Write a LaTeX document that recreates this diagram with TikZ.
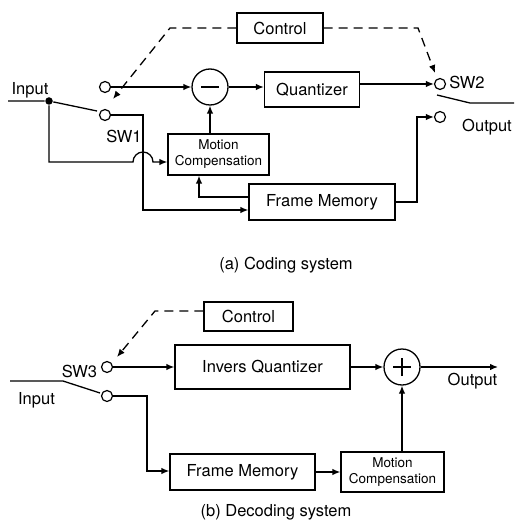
\documentclass[tikz,border=0pt]{standalone}
\usepackage{fontspec}
\setmainfont{TeX Gyre Heros}
\usetikzlibrary{arrows.meta}

\begin{document}
\begin{tikzpicture}[x=1pt,y=-1pt,line width=1.3pt,
  font=\fontsize{16.5}{19}\selectfont,
  blk/.style={draw,rectangle,inner sep=0pt},
  smalltext/.style={font=\fontsize{13.5}{16}\selectfont,align=center},
  sumnode/.style={draw,circle,minimum size=36pt,inner sep=0pt},
  contact/.style={draw,circle,fill=white,minimum size=11pt,inner sep=0pt,line width=1.2pt},
  jdot/.style={fill,circle,minimum size=7.5pt,inner sep=0pt},
  arr/.style={-{Latex[length=8pt,width=6.5pt]}},
  dctl/.style={dashed,dash pattern=on 9pt off 6pt,-{Latex[length=8pt,width=6.5pt]}}]
 \useasboundingbox (0,0) rectangle (514,529);

 % (a) coding system
 \node[blk,minimum width=86pt,minimum height=30pt] (ctlA) at (280,28) {Control};
 \node[blk,minimum width=95pt,minimum height=35pt] (quant) at (312,89.5) {Quantizer};
 \node[blk,smalltext,minimum width=101pt,minimum height=41pt] (mcA) at (218.5,154.5) {Motion\\Compensation};
 \node[blk,minimum width=146pt,minimum height=36pt] (fmA) at (322,202) {Frame Memory};
 \node[sumnode] (sub) at (210,87) {};
 \draw[line width=2.8pt] ([xshift=-9pt]sub.center) -- ([xshift=9pt]sub.center);

 \node[contact] (s1a) at (105,87) {};
 \node[contact] (s1b) at (105,115) {};
 \node[contact] (s2a) at (440,84) {};
 \node[contact] (s2b) at (440,117) {};
 \node[jdot] (inA) at (49,101) {};
 \coordinate (inAstart) at (8,101);
 \coordinate (b1) at (97,111);
 \coordinate (hop) at (133,162);
 \coordinate (k1) at (143,210);
 \coordinate (k2) at (417,117);
 \coordinate (k3) at (199,197);
 \coordinate (d1) at (170,28);
 \coordinate (tip1) at (113,99);
 \coordinate (d2) at (418,28);
 \coordinate (tip2) at (435,73);
 \coordinate (b2a) at (437,95);
 \coordinate (b2b) at (470,103);
 \coordinate (outA) at (514,103);

 \node (inlabA) at (30,90) {Input};
 \node (sw1) at (124,136) {SW1};
 \node (sw2) at (467,82) {SW2};
 \node (outlabA) at (487,127) {Output};

 \draw (inAstart) -- (inA) -- (b1);
 \draw[arr] (inA) |- (hop) arc[start angle=180,end angle=0,radius=10pt] -- (hop -| mcA.west);
 \draw[arr] (s1b) -| (k1) -- (k1 -| fmA.west);
 \draw[arr] (s1a) -- (sub);
 \draw[arr] (sub) -- (sub -| quant.west);
 \draw[arr] (mcA.north -| sub) -- (sub);
 \draw[arr] (k3 -| fmA.west) -- (k3) -- (k3 |- mcA.south);
 \draw[arr] (quant.east |- s2a) -- (s2a);
 \draw[arr] (fmA.east) -| (k2) -- (s2b);
 \draw (b2a) -- (b2b) -- (outA);
 \draw[dctl] (ctlA.west) -- (d1) -- (tip1);
 \draw[dctl] (ctlA.east) -- (d2) -- (tip2);

 \node (capA) at (286,265) {(a) Coding system};

 % (b) decoding system
 \node[blk,minimum width=89pt,minimum height=29pt] (ctlB) at (248.5,316.5) {Control};
 \node[blk,minimum width=175pt,minimum height=44pt] (iq) at (262.5,367) {Invers Quantizer};
 \node[blk,minimum width=145pt,minimum height=36pt] (fmB) at (242.5,472) {Frame Memory};
 \node[blk,smalltext,minimum width=103pt,minimum height=40pt] (mcB) at (392.5,472) {Motion\\Compensation};
 \node[sumnode] (add) at (402,367) {};
 \draw[line width=2.8pt] ([xshift=-9pt]add.center) -- ([xshift=9pt]add.center);
 \draw[line width=2.8pt] ([yshift=-9pt]add.center) -- ([yshift=9pt]add.center);

 \node[contact] (s3a) at (107,367) {};
 \node[contact] (s3b) at (107,396) {};
 \coordinate (inB) at (10,381);
 \coordinate (p3) at (63,381);
 \coordinate (b3) at (100,393);
 \coordinate (k4) at (147,471);
 \coordinate (d3) at (155,311);
 \coordinate (tip3) at (117,357);
 \coordinate (outB) at (498,367);

 \node (sw3) at (79.5,371) {SW3};
 \node (inlabB) at (36.5,400) {Input};
 \node (outlabB) at (472.5,381) {Output};

 \draw (inB) -- (p3) -- (b3);
 \draw[arr] (s3a) -- (s3a -| iq.west);
 \draw[arr] (iq) -- (add);
 \draw[arr] (add) -- (outB);
 \draw[arr] (s3b) -| (k4) -- (k4 -| fmB.west);
 \draw[arr] (fmB) -- (mcB);
 \draw[arr] (mcB.north -| add) -- (add);
 \draw[dctl] (d3 -| ctlB.west) -- (d3) -- (tip3);

 \node (capB) at (276,512) {(b) Decoding system};
\end{tikzpicture}
\end{document}
